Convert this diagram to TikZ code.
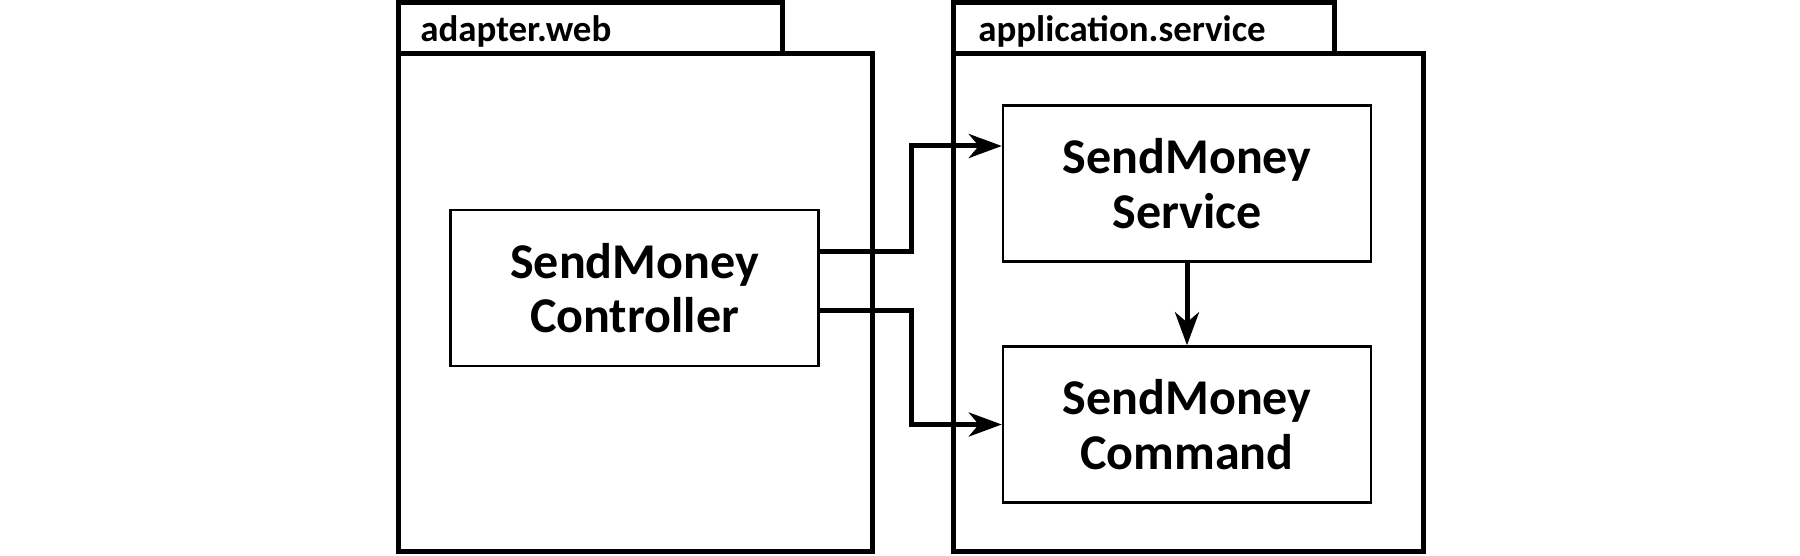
\documentclass[tikz,border=0pt]{standalone}
\usepackage{fontspec}
\setmainfont{Carlito}
\usetikzlibrary{arrows.meta, calc}

\begin{document}
\begin{tikzpicture}[x=0.02cm, y=0.02cm, >={Stealth[length=0.66cm, width=0.48cm, inset=0.2cm]}]
    \tikzset{
        pkg/.style={line width=0.1cm},
        cls/.style={draw, line width=0.05cm, minimum width=7.36cm, minimum height=3.12cm,
            align=center, font=\fontsize{28.5}{31}\selectfont\bfseries},
        tablabel/.style={anchor=base west, inner sep=0pt, font=\fontsize{21}{24}\selectfont\bfseries},
        dep/.style={->, line width=0.1cm}
    };
    \useasboundingbox (0,0) rectangle (1800,555);
    % package adapter.web
    \draw[pkg] (398,501) rectangle (782,552);
    \draw[pkg] (398,4) rectangle (872,501);
    \node[tablabel] (webname) at (420,513) {adapter.web};
    % package application.service
    \draw[pkg] (953,501) rectangle (1334,552);
    \draw[pkg] (953,4) rectangle (1423,501);
    \node[tablabel] (appname) at (978,513) {application.service};
    % classes
    \node[cls] (ctrl) at (634.5,267) {SendMoney\\Controller};
    \node[cls] (svc) at (1187,371.5) {SendMoney\\Service};
    \node[cls] (cmd) at (1187,130.5) {SendMoney\\Command};
    % dependencies
    \draw[dep] ($(ctrl.east)+(0,36)$) -- (911,303) |- ($(svc.west)+(0,37.5)$);
    \draw[dep] ($(ctrl.east)+(0,-23)$) -- (911,244) |- (cmd.west);
    \draw[dep] (svc) -- (cmd);
\end{tikzpicture}
\end{document}
